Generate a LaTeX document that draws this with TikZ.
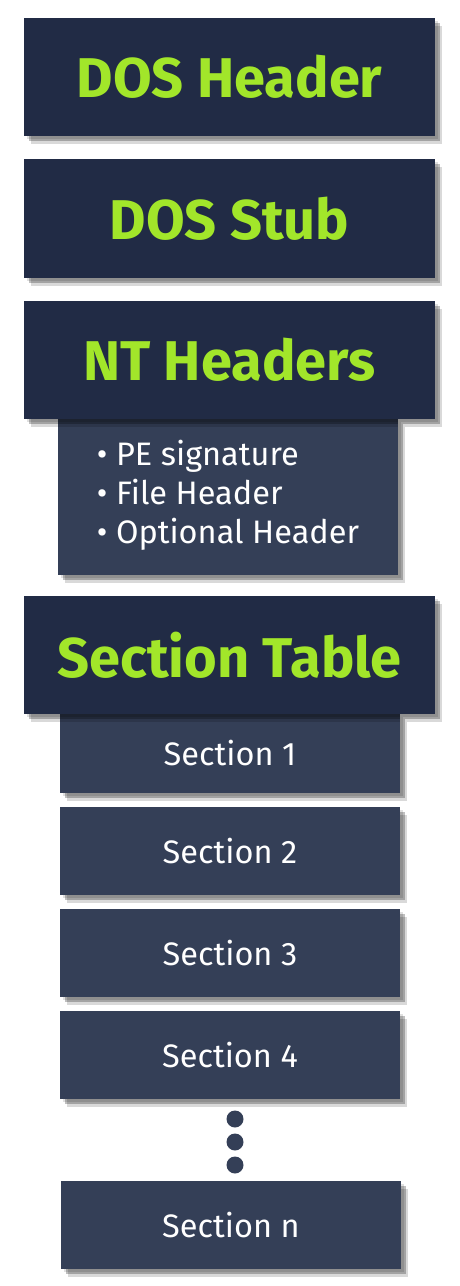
\documentclass[tikz,border=0pt]{standalone}
\usepackage{fontspec}
\setmainfont{Fira Sans}
\usetikzlibrary{shadows}
\definecolor{pehead}{RGB}{33,43,69}
\definecolor{pesect}{RGB}{52,63,87}
\definecolor{pegreen}{RGB}{162,230,42}

\tikzset{
  softshadow/.style={
    general shadow={fill=black,opacity=0.12,shadow xshift=3pt,shadow yshift=-3pt},
    general shadow={fill=black,opacity=0.25,shadow xshift=5pt,shadow yshift=-5pt},
    general shadow={fill=black,opacity=0.15,shadow xshift=7pt,shadow yshift=-8pt}},
  hdrbox/.style={softshadow,fill=pehead,text=pegreen,minimum width=411pt,minimum height=118pt,
    inner sep=0pt,font=\fontsize{56}{66}\selectfont\bfseries},
  secbox/.style={softshadow,fill=pesect,text=white,minimum width=340pt,minimum height=88pt,
    inner sep=0pt,font=\fontsize{32.5}{39}\selectfont},
}

\begin{document}
\begin{tikzpicture}[x=1pt,y=-1pt]
  \useasboundingbox (0,0) rectangle (459,1286);
  % sub-blocks first, so the header shadows fall on them
  \node[secbox,minimum height=156pt] (ntlist) at (228,497)
    {\begin{tabular}{@{}l@{}}\textbullet\ PE signature\\ \textbullet\ File Header\\ \textbullet\ Optional Header\end{tabular}};
  \node[secbox,minimum height=79pt] (sec1) at (230,753.5) {Section 1};
  \node[secbox] (sec2) at (230,851) {Section 2};
  \node[secbox] (sec3) at (230,953) {Section 3};
  \node[secbox] (sec4) at (230,1055) {Section 4};
  \foreach \y in {1119,1142,1165}{\fill[pesect] (235,\y) circle (8.5pt);}
  \node[secbox] (secn) at (231,1225) {Section n};
  % headers
  \node[hdrbox] (doshdr) at (229.5,77) {DOS Header};
  \node[hdrbox,minimum height=119pt] (dosstub) at (229.5,218.5) {DOS Stub};
  \node[hdrbox] (nthdr) at (229.5,360) {NT Headers};
  \node[hdrbox] (sectab) at (229.5,655) {Section Table};
\end{tikzpicture}
\end{document}
